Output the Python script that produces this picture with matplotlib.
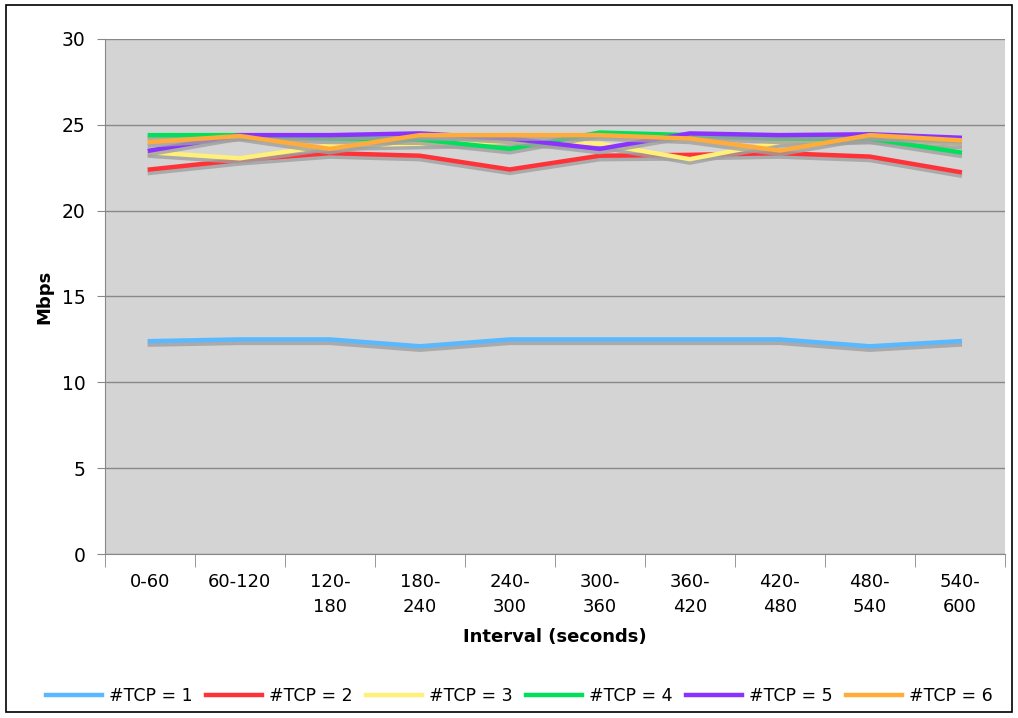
import numpy as np
import matplotlib.pyplot as plt
import matplotlib.patheffects as pe
from matplotlib.patches import Rectangle
from matplotlib.lines import Line2D

# throughput per 60 s interval, one list per number of TCP connections
intervals = ["0-60", "60-120", "120-\n180", "180-\n240", "240-\n300",
             "300-\n360", "360-\n420", "420-\n480", "480-\n540", "540-\n600"]
tcp1 = [12.4, 12.5, 12.5, 12.1, 12.5, 12.5, 12.5, 12.5, 12.1, 12.4]
tcp2 = [22.4, 22.95, 23.35, 23.2, 22.4, 23.2, 23.25, 23.35, 23.15, 22.25]
tcp3 = [23.4, 23.05, 23.8, 23.9, 24.0, 23.9, 23.0, 24.0, 24.2, 23.9]
tcp4 = [24.4, 24.4, 24.2, 24.15, 23.6, 24.55, 24.4, 24.2, 24.2, 23.4]
tcp5 = [23.5, 24.4, 24.4, 24.5, 24.2, 23.6, 24.5, 24.4, 24.45, 24.25]
tcp6 = [24.0, 24.35, 23.6, 24.4, 24.4, 24.4, 24.2, 23.5, 24.4, 24.1]

series = [tcp1, tcp2, tcp3, tcp4, tcp5, tcp6]
labels = ["#TCP = %d" % i for i in range(1, 7)]
colors = ["#5ab8ff", "#ff3237", "#fff07a", "#00e05a", "#8a33ff", "#ffac3a"]

fig = plt.figure(figsize=(10.18, 7.18), dpi=100)
ax = fig.add_axes([0.103, 0.2284, 0.884, 0.7173])

# frame around the whole chart
fig.patches.append(Rectangle((0.006, 0.008), 0.988, 0.985, transform=fig.transFigure,
                             fill=False, edgecolor="black", linewidth=1.2))

x = np.arange(len(intervals))
shadow = [pe.SimpleLineShadow(offset=(0, -2.5), shadow_color="#a0a0a0", alpha=0.8),
          pe.Normal()]
for ys, c in zip(series, colors):
    ax.plot(x, ys, color=c, lw=3.2, solid_joinstyle="miter", path_effects=shadow)

ax.set_facecolor("#d4d4d4")
ax.set_xlim(-0.5, len(intervals) - 0.5)
ax.set_ylim(0, 30)
ax.set_yticks(range(0, 31, 5))
ax.yaxis.grid(True, color="#888888", lw=1)
ax.set_axisbelow(True)

ax.set_xticks(x)
ax.set_xticklabels(intervals, fontsize=13, linespacing=1.5, va="top")
ax.set_xticks(np.arange(-0.5, len(intervals)), minor=True)
ax.tick_params(axis="x", which="major", length=0, pad=14)
ax.tick_params(axis="x", which="minor", length=9, color="#888888")
ax.tick_params(axis="y", labelsize=13.5, length=6, color="#888888", pad=8)

for side in ["top", "right"]:
    ax.spines[side].set_visible(False)
for side in ["left", "bottom"]:
    ax.spines[side].set_color("#888888")

ax.set_ylabel("Mbps", fontsize=13, fontweight="bold", labelpad=6)
ax.set_xlabel("Interval (seconds)", fontsize=13, fontweight="bold", labelpad=8)

# legend handles without the drop shadow
handles = [Line2D([], [], color=c, lw=3.2) for c in colors]
fig.legend(handles, labels, loc="center", bbox_to_anchor=(0.51, 0.03), ncol=6,
           frameon=False, fontsize=12.5, handlelength=3.2, handletextpad=0.4,
           columnspacing=0.8)

fig.savefig("out.png", dpi=100)
